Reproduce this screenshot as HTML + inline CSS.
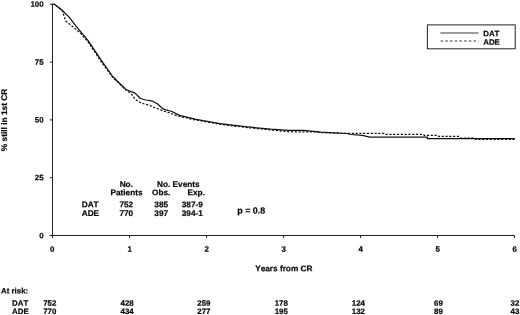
<!DOCTYPE html>
<html>
<head>
<meta charset="utf-8">
<title>Remission duration: DAT vs ADE</title>
<style>
html,body{margin:0;padding:0;background:#fff;}
body{width:520px;height:315px;overflow:hidden;}
svg{display:block;}
text{font-family:"Liberation Sans",Arial,Helvetica,sans-serif;font-weight:bold;fill:#0a0a0a;stroke:#0a0a0a;stroke-width:0.22;text-rendering:geometricPrecision;font-kerning:none;}
.ax{stroke:#222;stroke-width:1;fill:none;}
.cv{stroke:#111;stroke-width:1.25;fill:none;stroke-linejoin:round;}
.ds{stroke:#111;stroke-width:1.2;fill:none;stroke-dasharray:2.2 1.6;stroke-linejoin:round;}
</style>
</head>
<body>
<svg width="520" height="315" viewBox="0 0 520 315">
<rect x="0" y="0" width="520" height="315" fill="#fff"/>
<!-- axes -->
<path class="ax" d="M52.5 4.3V238 M49.5 235.5H514.6"/>
<path class="ax" d="M49.8 4.3H53 M49.8 62.1H53 M49.8 119.9H53 M49.8 177.7H53"/>
<path class="ax" d="M129.6 235.5V238 M206.6 235.5V238 M283.6 235.5V238 M360.6 235.5V238 M437.6 235.5V238 M514.5 235.5V238"/>
<!-- y tick labels -->
<text transform="translate(43.6 6.7) rotate(0.05)" font-size="7.9" text-anchor="end">100</text>
<text transform="translate(43.6 64.7) rotate(0.05)" font-size="7.9" text-anchor="end">75</text>
<text transform="translate(43.6 122.5) rotate(0.05)" font-size="7.9" text-anchor="end">50</text>
<text transform="translate(43.6 180.3) rotate(0.05)" font-size="7.9" text-anchor="end">25</text>
<text transform="translate(43.6 238.2) rotate(0.05)" font-size="7.9" text-anchor="end">0</text>
<!-- x tick labels -->
<text transform="translate(52.2 251.8) rotate(0.05)" font-size="7.9" text-anchor="middle">0</text>
<text transform="translate(129.6 251.8) rotate(0.05)" font-size="7.9" text-anchor="middle">1</text>
<text transform="translate(206.6 251.8) rotate(0.05)" font-size="7.9" text-anchor="middle">2</text>
<text transform="translate(283.7 251.8) rotate(0.05)" font-size="7.9" text-anchor="middle">3</text>
<text transform="translate(360.6 251.8) rotate(0.05)" font-size="7.9" text-anchor="middle">4</text>
<text transform="translate(437.7 251.8) rotate(0.05)" font-size="7.9" text-anchor="middle">5</text>
<text transform="translate(514.7 251.8) rotate(0.05)" font-size="7.9" text-anchor="middle">6</text>
<text transform="translate(283.8 271.2) rotate(0.05)" font-size="8.25" text-anchor="middle">Years from CR</text>
<text transform="translate(7.2 119.9) rotate(-90) scale(1.01 1)" font-size="8.25" text-anchor="middle">% still in 1st CR</text>
<!-- curves -->
<path class="ds" d="M52.5 4.3H54.5L62.1 10.4L65.9 21.2L74.2 27.9L80.5 33.2L85 38.3L88.1 42L100.8 61.2L112.7 77.3L125.8 89.9L131.2 93.7L135 99.2L141.2 103.1L148.1 104.9L155 107.7L162.7 110.8L168.8 112.6L176.5 115.6L195 119.9L201.6 120.9L220 124.3L245.4 127.4L270.8 129.9L290 131.9H316L320.8 132.6L345 133.4H384L385 134.3H423.3L424.3 135.3H437.7L438.7 136.4H459L460.6 138.1H474.6L476 139.5H514.8"/>
<path class="cv" d="M52.5 4.3H54.5L62.1 10.2L69.1 17.1L75.4 25.4L88.1 40.6L100.8 59.7L112.7 76.5L125.8 89.5L135 93.1L140.4 98.5L145.8 100L152.7 101.2L157.3 103.8L163.5 109.2L171.9 111.5L179.6 115.4L195 119.2L201.6 120.3L220 123.6L245.4 126.7L270.8 129.2L288.5 130.4H303.8L320.8 132.2L347 133.5L350.8 134.5L362.3 135.3L369.8 137.2H427.3V138.6H514.8"/>
<!-- legend -->
<rect x="427.4" y="24.9" width="87.8" height="23.9" fill="#fff" stroke="#222" stroke-width="1"/>
<path d="M440.4 33H478.6" stroke="#3a3a3a" stroke-width="1" fill="none"/>
<path d="M440.6 41H478.6" stroke="#333" stroke-width="1.1" stroke-dasharray="2.5 2.2" fill="none"/>
<text transform="translate(483.2 36.3) rotate(0.05)" font-size="7.9">DAT</text>
<text transform="translate(483.2 44.7) rotate(0.05)" font-size="7.9">ADE</text>
<!-- inset table -->
<text transform="translate(126.3 187) rotate(0.05)" font-size="8.25" text-anchor="middle">No.</text>
<text transform="translate(126.5 195.3) rotate(0.05)" font-size="8.25" text-anchor="middle">Patients</text>
<text transform="translate(157 187) rotate(0.05)" font-size="8.25">No. Events</text>
<text transform="translate(152 195.3) rotate(0.05)" font-size="8.25">Obs.</text>
<text transform="translate(187.5 195.3) rotate(0.05)" font-size="8.25">Exp.</text>
<text transform="translate(81.7 207.3) rotate(0.05)" font-size="8.25">DAT</text>
<text transform="translate(81.7 216.0) rotate(0.05)" font-size="8.25">ADE</text>
<text transform="translate(126.3 207.3) rotate(0.05)" font-size="8.25" text-anchor="middle">752</text>
<text transform="translate(126.3 216.0) rotate(0.05)" font-size="8.25" text-anchor="middle">770</text>
<text transform="translate(161.2 207.3) rotate(0.05)" font-size="8.25" text-anchor="middle">385</text>
<text transform="translate(161.2 216.0) rotate(0.05)" font-size="8.25" text-anchor="middle">397</text>
<text transform="translate(192.3 207.3) rotate(0.05)" font-size="8.25" text-anchor="middle">387-9</text>
<text transform="translate(192.3 216.0) rotate(0.05)" font-size="8.25" text-anchor="middle">394-1</text>
<text transform="translate(237.3 213.4) rotate(0.05)" font-size="8.9">p = 0.8</text>
<!-- at risk table -->
<text transform="translate(1 293.5) rotate(0.05)" font-size="7.9">At risk:</text>
<text transform="translate(12 305.7) rotate(0.05)" font-size="7.9">DAT</text>
<text transform="translate(12 314.1) rotate(0.05)" font-size="7.9">ADE</text>
<text transform="translate(49.8 305.7) rotate(0.05)" font-size="7.9" text-anchor="middle">752</text>
<text transform="translate(49.8 314.1) rotate(0.05)" font-size="7.9" text-anchor="middle">770</text>
<text transform="translate(127.1 305.7) rotate(0.05)" font-size="7.9" text-anchor="middle">428</text>
<text transform="translate(127.1 314.1) rotate(0.05)" font-size="7.9" text-anchor="middle">434</text>
<text transform="translate(203.9 305.7) rotate(0.05)" font-size="7.9" text-anchor="middle">259</text>
<text transform="translate(203.9 314.1) rotate(0.05)" font-size="7.9" text-anchor="middle">277</text>
<text transform="translate(281.3 305.7) rotate(0.05)" font-size="7.9" text-anchor="middle">178</text>
<text transform="translate(281.3 314.1) rotate(0.05)" font-size="7.9" text-anchor="middle">195</text>
<text transform="translate(358.4 305.7) rotate(0.05)" font-size="7.9" text-anchor="middle">124</text>
<text transform="translate(358.4 314.1) rotate(0.05)" font-size="7.9" text-anchor="middle">132</text>
<text transform="translate(438.4 305.7) rotate(0.05)" font-size="7.9" text-anchor="middle">69</text>
<text transform="translate(438.4 314.1) rotate(0.05)" font-size="7.9" text-anchor="middle">89</text>
<text transform="translate(514.9 305.7) rotate(0.05)" font-size="7.9" text-anchor="middle">32</text>
<text transform="translate(514.9 314.1) rotate(0.05)" font-size="7.9" text-anchor="middle">43</text>
</svg>
</body>
</html>
